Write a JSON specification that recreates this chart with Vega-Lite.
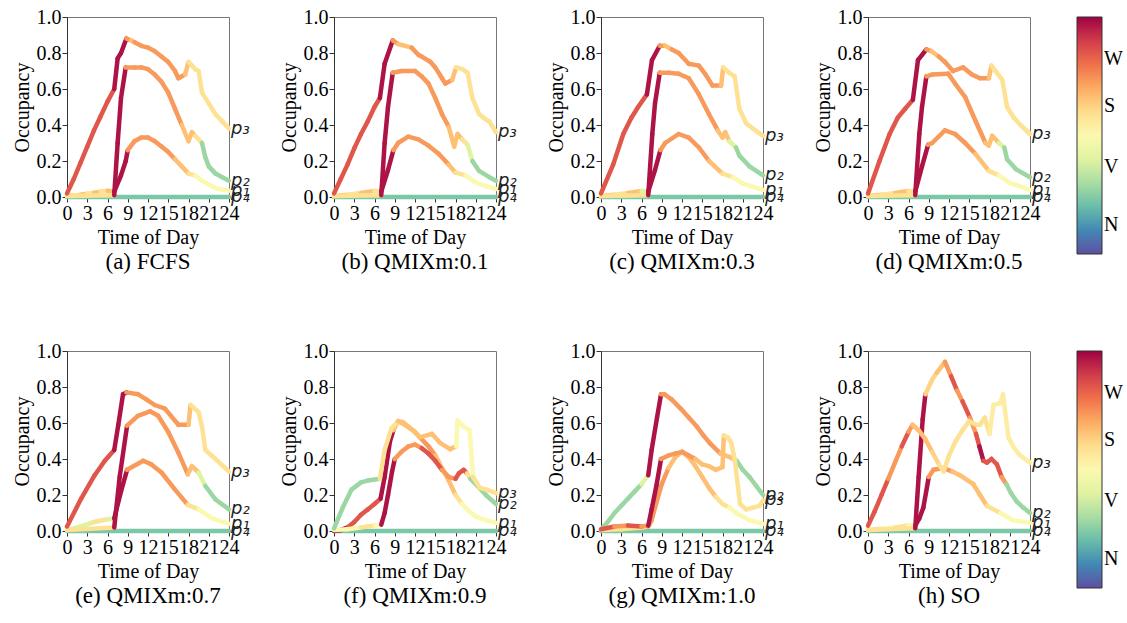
{
"$schema":"https://vega.github.io/schema/vega-lite/v6.json",
"padding":{"left":11,"top":6,"right":5,"bottom":5},
"background":"white",
"config":{
 "view":{"stroke":"#777","strokeWidth":1},
 "axis":{"labelFont":"Liberation Serif","labelFontSize":20,"labelColor":"black","titleFont":"Liberation Serif","titleFontSize":20,"titleFontWeight":"normal","titleColor":"black","grid":false,"tickSize":5,"tickColor":"#333","domainColor":"#333","labelOverlap":false,"labelFlush":false,"labelPadding":1,"labelBound":false},
 "title":{"orient":"bottom","font":"Liberation Serif","fontSize":23,"fontWeight":"normal","color":"black","offset":4},
 "legend":{"labelFont":"Liberation Serif","labelFontSize":20,"labelColor":"black"}
},
"data":{"values":[
{"f":"a","s":"p₄","t":0,"v":0,"c":0.23},{"f":"a","s":"p₄","t":24,"v":0,"c":0.23},
{"f":"a","s":"p₁","t":0,"v":0.005,"c":0.66},{"f":"a","s":"p₁","t":1,"v":0.008,"c":0.58},{"f":"a","s":"p₁","t":2,"v":0.012,"c":0.66},{"f":"a","s":"p₁","t":3,"v":0.018,"c":0.58},{"f":"a","s":"p₁","t":4,"v":0.024,"c":0.66},{"f":"a","s":"p₁","t":5,"v":0.03,"c":0.58},{"f":"a","s":"p₁","t":6,"v":0.035,"c":0.66},{"f":"a","s":"p₁","t":7,"v":0.03,"c":0.97},{"f":"a","s":"p₁","t":8,"v":0.12,"c":0.97},{"f":"a","s":"p₁","t":8.7,"v":0.2,"c":0.97},{"f":"a","s":"p₁","t":9,"v":0.26,"c":0.73},{"f":"a","s":"p₁","t":10,"v":0.31,"c":0.73},{"f":"a","s":"p₁","t":11,"v":0.33,"c":0.73},{"f":"a","s":"p₁","t":12,"v":0.33,"c":0.73},{"f":"a","s":"p₁","t":13,"v":0.31,"c":0.73},{"f":"a","s":"p₁","t":14,"v":0.28,"c":0.73},{"f":"a","s":"p₁","t":15,"v":0.25,"c":0.73},{"f":"a","s":"p₁","t":16,"v":0.21,"c":0.66},{"f":"a","s":"p₁","t":17,"v":0.17,"c":0.66},{"f":"a","s":"p₁","t":18,"v":0.13,"c":0.58},{"f":"a","s":"p₁","t":19,"v":0.12,"c":0.5},{"f":"a","s":"p₁","t":20,"v":0.09,"c":0.5},{"f":"a","s":"p₁","t":21,"v":0.07,"c":0.5},{"f":"a","s":"p₁","t":22,"v":0.05,"c":0.5},{"f":"a","s":"p₁","t":23,"v":0.04,"c":0.5},{"f":"a","s":"p₁","t":24,"v":0.035,"c":0.5},
{"f":"a","s":"p₂","t":0,"v":0.005,"c":0.58},{"f":"a","s":"p₂","t":7,"v":0.01,"c":0.97},{"f":"a","s":"p₂","t":7.5,"v":0.3,"c":0.97},{"f":"a","s":"p₂","t":8,"v":0.55,"c":0.97},{"f":"a","s":"p₂","t":8.7,"v":0.72,"c":0.73},{"f":"a","s":"p₂","t":10,"v":0.72,"c":0.73},{"f":"a","s":"p₂","t":11,"v":0.72,"c":0.73},{"f":"a","s":"p₂","t":12,"v":0.71,"c":0.73},{"f":"a","s":"p₂","t":13,"v":0.68,"c":0.73},{"f":"a","s":"p₂","t":14,"v":0.64,"c":0.73},{"f":"a","s":"p₂","t":15,"v":0.58,"c":0.73},{"f":"a","s":"p₂","t":16,"v":0.49,"c":0.73},{"f":"a","s":"p₂","t":17,"v":0.4,"c":0.66},{"f":"a","s":"p₂","t":18,"v":0.31,"c":0.66},{"f":"a","s":"p₂","t":18.5,"v":0.36,"c":0.66},{"f":"a","s":"p₂","t":19,"v":0.34,"c":0.58},{"f":"a","s":"p₂","t":20,"v":0.3,"c":0.28},{"f":"a","s":"p₂","t":20.5,"v":0.22,"c":0.28},{"f":"a","s":"p₂","t":21,"v":0.17,"c":0.28},{"f":"a","s":"p₂","t":22,"v":0.13,"c":0.28},{"f":"a","s":"p₂","t":23,"v":0.11,"c":0.28},{"f":"a","s":"p₂","t":24,"v":0.09,"c":0.28},
{"f":"a","s":"p₃","t":0,"v":0.02,"c":0.85},{"f":"a","s":"p₃","t":1,"v":0.1,"c":0.85},{"f":"a","s":"p₃","t":2,"v":0.19,"c":0.85},{"f":"a","s":"p₃","t":3,"v":0.28,"c":0.85},{"f":"a","s":"p₃","t":4,"v":0.37,"c":0.85},{"f":"a","s":"p₃","t":5,"v":0.45,"c":0.85},{"f":"a","s":"p₃","t":6,"v":0.53,"c":0.85},{"f":"a","s":"p₃","t":7,"v":0.6,"c":0.97},{"f":"a","s":"p₃","t":7.5,"v":0.77,"c":0.97},{"f":"a","s":"p₃","t":8,"v":0.8,"c":0.97},{"f":"a","s":"p₃","t":8.8,"v":0.88,"c":0.73},{"f":"a","s":"p₃","t":9.5,"v":0.87,"c":0.66},{"f":"a","s":"p₃","t":10,"v":0.86,"c":0.73},{"f":"a","s":"p₃","t":11,"v":0.84,"c":0.73},{"f":"a","s":"p₃","t":12,"v":0.83,"c":0.73},{"f":"a","s":"p₃","t":13,"v":0.81,"c":0.73},{"f":"a","s":"p₃","t":14,"v":0.78,"c":0.73},{"f":"a","s":"p₃","t":15,"v":0.75,"c":0.73},{"f":"a","s":"p₃","t":16,"v":0.7,"c":0.73},{"f":"a","s":"p₃","t":16.5,"v":0.66,"c":0.73},{"f":"a","s":"p₃","t":17.5,"v":0.68,"c":0.66},{"f":"a","s":"p₃","t":18,"v":0.75,"c":0.58},{"f":"a","s":"p₃","t":18.5,"v":0.73,"c":0.58},{"f":"a","s":"p₃","t":19,"v":0.71,"c":0.58},{"f":"a","s":"p₃","t":19.5,"v":0.7,"c":0.58},{"f":"a","s":"p₃","t":20,"v":0.58,"c":0.58},{"f":"a","s":"p₃","t":21,"v":0.52,"c":0.58},{"f":"a","s":"p₃","t":22,"v":0.46,"c":0.58},{"f":"a","s":"p₃","t":23,"v":0.42,"c":0.58},{"f":"a","s":"p₃","t":24,"v":0.38,"c":0.58},

{"f":"b","s":"p₄","t":0,"v":0,"c":0.23},{"f":"b","s":"p₄","t":24,"v":0,"c":0.23},
{"f":"b","s":"p₁","t":0,"v":0.005,"c":0.66},{"f":"b","s":"p₁","t":2,"v":0.012,"c":0.58},{"f":"b","s":"p₁","t":4,"v":0.022,"c":0.66},{"f":"b","s":"p₁","t":6,"v":0.033,"c":0.58},{"f":"b","s":"p₁","t":7,"v":0.03,"c":0.97},{"f":"b","s":"p₁","t":8,"v":0.15,"c":0.97},{"f":"b","s":"p₁","t":8.8,"v":0.26,"c":0.73},{"f":"b","s":"p₁","t":9.5,"v":0.3,"c":0.73},{"f":"b","s":"p₁","t":11,"v":0.335,"c":0.73},{"f":"b","s":"p₁","t":12.5,"v":0.32,"c":0.73},{"f":"b","s":"p₁","t":14,"v":0.285,"c":0.73},{"f":"b","s":"p₁","t":15.5,"v":0.24,"c":0.73},{"f":"b","s":"p₁","t":17,"v":0.18,"c":0.66},{"f":"b","s":"p₁","t":18,"v":0.135,"c":0.58},{"f":"b","s":"p₁","t":19.5,"v":0.12,"c":0.5},{"f":"b","s":"p₁","t":21,"v":0.08,"c":0.5},{"f":"b","s":"p₁","t":22.5,"v":0.06,"c":0.5},{"f":"b","s":"p₁","t":24,"v":0.045,"c":0.5},
{"f":"b","s":"p₂","t":0,"v":0.005,"c":0.58},{"f":"b","s":"p₂","t":7,"v":0.01,"c":0.97},{"f":"b","s":"p₂","t":7.5,"v":0.3,"c":0.97},{"f":"b","s":"p₂","t":8,"v":0.5,"c":0.97},{"f":"b","s":"p₂","t":8.7,"v":0.69,"c":0.73},{"f":"b","s":"p₂","t":10,"v":0.7,"c":0.73},{"f":"b","s":"p₂","t":11,"v":0.7,"c":0.73},{"f":"b","s":"p₂","t":12,"v":0.7,"c":0.73},{"f":"b","s":"p₂","t":13,"v":0.67,"c":0.73},{"f":"b","s":"p₂","t":14,"v":0.63,"c":0.73},{"f":"b","s":"p₂","t":15,"v":0.55,"c":0.73},{"f":"b","s":"p₂","t":16,"v":0.46,"c":0.73},{"f":"b","s":"p₂","t":17,"v":0.39,"c":0.66},{"f":"b","s":"p₂","t":17.8,"v":0.28,"c":0.66},{"f":"b","s":"p₂","t":18.3,"v":0.35,"c":0.66},{"f":"b","s":"p₂","t":19,"v":0.32,"c":0.58},{"f":"b","s":"p₂","t":19.8,"v":0.29,"c":0.4},{"f":"b","s":"p₂","t":20.5,"v":0.2,"c":0.28},{"f":"b","s":"p₂","t":21.5,"v":0.145,"c":0.28},{"f":"b","s":"p₂","t":23,"v":0.11,"c":0.28},{"f":"b","s":"p₂","t":24,"v":0.09,"c":0.28},
{"f":"b","s":"p₃","t":0,"v":0.02,"c":0.85},{"f":"b","s":"p₃","t":1,"v":0.1,"c":0.85},{"f":"b","s":"p₃","t":2,"v":0.18,"c":0.85},{"f":"b","s":"p₃","t":3,"v":0.27,"c":0.85},{"f":"b","s":"p₃","t":4,"v":0.35,"c":0.85},{"f":"b","s":"p₃","t":5,"v":0.42,"c":0.85},{"f":"b","s":"p₃","t":6,"v":0.5,"c":0.85},{"f":"b","s":"p₃","t":6.8,"v":0.55,"c":0.97},{"f":"b","s":"p₃","t":7.5,"v":0.74,"c":0.97},{"f":"b","s":"p₃","t":8.7,"v":0.87,"c":0.73},{"f":"b","s":"p₃","t":9.5,"v":0.85,"c":0.66},{"f":"b","s":"p₃","t":10.5,"v":0.84,"c":0.66},{"f":"b","s":"p₃","t":11.5,"v":0.83,"c":0.73},{"f":"b","s":"p₃","t":12.5,"v":0.79,"c":0.73},{"f":"b","s":"p₃","t":13,"v":0.78,"c":0.73},{"f":"b","s":"p₃","t":14.3,"v":0.75,"c":0.73},{"f":"b","s":"p₃","t":15,"v":0.72,"c":0.73},{"f":"b","s":"p₃","t":16,"v":0.66,"c":0.73},{"f":"b","s":"p₃","t":16.5,"v":0.63,"c":0.73},{"f":"b","s":"p₃","t":17.5,"v":0.65,"c":0.66},{"f":"b","s":"p₃","t":18.1,"v":0.72,"c":0.58},{"f":"b","s":"p₃","t":19,"v":0.71,"c":0.58},{"f":"b","s":"p₃","t":19.8,"v":0.69,"c":0.58},{"f":"b","s":"p₃","t":20.5,"v":0.55,"c":0.58},{"f":"b","s":"p₃","t":21.5,"v":0.46,"c":0.58},{"f":"b","s":"p₃","t":22.5,"v":0.43,"c":0.58},{"f":"b","s":"p₃","t":23,"v":0.42,"c":0.58},{"f":"b","s":"p₃","t":24,"v":0.36,"c":0.58},

{"f":"c","s":"p₄","t":0,"v":0,"c":0.23},{"f":"c","s":"p₄","t":24,"v":0,"c":0.23},
{"f":"c","s":"p₁","t":0,"v":0.005,"c":0.66},{"f":"c","s":"p₁","t":2,"v":0.012,"c":0.58},{"f":"c","s":"p₁","t":4,"v":0.022,"c":0.66},{"f":"c","s":"p₁","t":6,"v":0.033,"c":0.4},{"f":"c","s":"p₁","t":7,"v":0.03,"c":0.97},{"f":"c","s":"p₁","t":8,"v":0.15,"c":0.97},{"f":"c","s":"p₁","t":8.8,"v":0.26,"c":0.73},{"f":"c","s":"p₁","t":9.5,"v":0.3,"c":0.73},{"f":"c","s":"p₁","t":11.5,"v":0.35,"c":0.73},{"f":"c","s":"p₁","t":13,"v":0.33,"c":0.73},{"f":"c","s":"p₁","t":14.5,"v":0.275,"c":0.73},{"f":"c","s":"p₁","t":16,"v":0.2,"c":0.66},{"f":"c","s":"p₁","t":18,"v":0.13,"c":0.58},{"f":"c","s":"p₁","t":19.5,"v":0.11,"c":0.5},{"f":"c","s":"p₁","t":21,"v":0.075,"c":0.5},{"f":"c","s":"p₁","t":24,"v":0.04,"c":0.5},
{"f":"c","s":"p₂","t":0,"v":0.005,"c":0.58},{"f":"c","s":"p₂","t":7,"v":0.01,"c":0.97},{"f":"c","s":"p₂","t":7.6,"v":0.35,"c":0.97},{"f":"c","s":"p₂","t":8,"v":0.52,"c":0.97},{"f":"c","s":"p₂","t":8.7,"v":0.69,"c":0.73},{"f":"c","s":"p₂","t":10,"v":0.69,"c":0.73},{"f":"c","s":"p₂","t":11.5,"v":0.685,"c":0.73},{"f":"c","s":"p₂","t":13,"v":0.66,"c":0.73},{"f":"c","s":"p₂","t":14.5,"v":0.57,"c":0.73},{"f":"c","s":"p₂","t":16,"v":0.46,"c":0.73},{"f":"c","s":"p₂","t":17.3,"v":0.37,"c":0.66},{"f":"c","s":"p₂","t":18,"v":0.33,"c":0.66},{"f":"c","s":"p₂","t":18.4,"v":0.36,"c":0.66},{"f":"c","s":"p₂","t":19,"v":0.31,"c":0.4},{"f":"c","s":"p₂","t":20,"v":0.275,"c":0.28},{"f":"c","s":"p₂","t":20.5,"v":0.23,"c":0.28},{"f":"c","s":"p₂","t":22,"v":0.17,"c":0.28},{"f":"c","s":"p₂","t":24,"v":0.12,"c":0.28},
{"f":"c","s":"p₃","t":0,"v":0.02,"c":0.85},{"f":"c","s":"p₃","t":1.8,"v":0.18,"c":0.85},{"f":"c","s":"p₃","t":3.3,"v":0.35,"c":0.85},{"f":"c","s":"p₃","t":4.5,"v":0.44,"c":0.85},{"f":"c","s":"p₃","t":5.5,"v":0.5,"c":0.85},{"f":"c","s":"p₃","t":6.8,"v":0.57,"c":0.97},{"f":"c","s":"p₃","t":7.55,"v":0.76,"c":0.97},{"f":"c","s":"p₃","t":8.7,"v":0.84,"c":0.73},{"f":"c","s":"p₃","t":9.5,"v":0.84,"c":0.66},{"f":"c","s":"p₃","t":10.5,"v":0.82,"c":0.73},{"f":"c","s":"p₃","t":11.5,"v":0.8,"c":0.73},{"f":"c","s":"p₃","t":13,"v":0.74,"c":0.73},{"f":"c","s":"p₃","t":14.5,"v":0.73,"c":0.73},{"f":"c","s":"p₃","t":15.5,"v":0.68,"c":0.73},{"f":"c","s":"p₃","t":16.5,"v":0.62,"c":0.73},{"f":"c","s":"p₃","t":17.8,"v":0.62,"c":0.66},{"f":"c","s":"p₃","t":18.1,"v":0.72,"c":0.58},{"f":"c","s":"p₃","t":19,"v":0.69,"c":0.58},{"f":"c","s":"p₃","t":19.8,"v":0.67,"c":0.58},{"f":"c","s":"p₃","t":20.5,"v":0.49,"c":0.58},{"f":"c","s":"p₃","t":21.5,"v":0.41,"c":0.58},{"f":"c","s":"p₃","t":22.5,"v":0.38,"c":0.58},{"f":"c","s":"p₃","t":24,"v":0.34,"c":0.58},

{"f":"d","s":"p₄","t":0,"v":0,"c":0.23},{"f":"d","s":"p₄","t":24,"v":0,"c":0.23},
{"f":"d","s":"p₁","t":0,"v":0.005,"c":0.66},{"f":"d","s":"p₁","t":2,"v":0.012,"c":0.58},{"f":"d","s":"p₁","t":4,"v":0.022,"c":0.66},{"f":"d","s":"p₁","t":6,"v":0.033,"c":0.58},{"f":"d","s":"p₁","t":7,"v":0.03,"c":0.97},{"f":"d","s":"p₁","t":8,"v":0.17,"c":0.97},{"f":"d","s":"p₁","t":8.9,"v":0.29,"c":0.73},{"f":"d","s":"p₁","t":9.5,"v":0.3,"c":0.73},{"f":"d","s":"p₁","t":11.4,"v":0.37,"c":0.73},{"f":"d","s":"p₁","t":12.9,"v":0.35,"c":0.73},{"f":"d","s":"p₁","t":14.4,"v":0.3,"c":0.73},{"f":"d","s":"p₁","t":15.9,"v":0.24,"c":0.66},{"f":"d","s":"p₁","t":17.9,"v":0.145,"c":0.58},{"f":"d","s":"p₁","t":19.4,"v":0.12,"c":0.5},{"f":"d","s":"p₁","t":20.9,"v":0.08,"c":0.5},{"f":"d","s":"p₁","t":24,"v":0.04,"c":0.5},
{"f":"d","s":"p₂","t":0,"v":0.005,"c":0.58},{"f":"d","s":"p₂","t":7,"v":0.01,"c":0.97},{"f":"d","s":"p₂","t":7.6,"v":0.35,"c":0.97},{"f":"d","s":"p₂","t":8,"v":0.5,"c":0.97},{"f":"d","s":"p₂","t":8.65,"v":0.67,"c":0.73},{"f":"d","s":"p₂","t":9.5,"v":0.68,"c":0.73},{"f":"d","s":"p₂","t":11.9,"v":0.685,"c":0.73},{"f":"d","s":"p₂","t":12.9,"v":0.63,"c":0.73},{"f":"d","s":"p₂","t":14.4,"v":0.555,"c":0.73},{"f":"d","s":"p₂","t":15.9,"v":0.425,"c":0.73},{"f":"d","s":"p₂","t":17.4,"v":0.3,"c":0.66},{"f":"d","s":"p₂","t":17.9,"v":0.285,"c":0.66},{"f":"d","s":"p₂","t":18.4,"v":0.34,"c":0.66},{"f":"d","s":"p₂","t":19.4,"v":0.3,"c":0.4},{"f":"d","s":"p₂","t":20.2,"v":0.275,"c":0.28},{"f":"d","s":"p₂","t":20.6,"v":0.21,"c":0.28},{"f":"d","s":"p₂","t":21.9,"v":0.155,"c":0.28},{"f":"d","s":"p₂","t":24,"v":0.11,"c":0.28},
{"f":"d","s":"p₃","t":0,"v":0.02,"c":0.85},{"f":"d","s":"p₃","t":1.7,"v":0.2,"c":0.85},{"f":"d","s":"p₃","t":3.2,"v":0.35,"c":0.85},{"f":"d","s":"p₃","t":4.4,"v":0.44,"c":0.85},{"f":"d","s":"p₃","t":5.5,"v":0.49,"c":0.85},{"f":"d","s":"p₃","t":6.65,"v":0.54,"c":0.97},{"f":"d","s":"p₃","t":7.4,"v":0.76,"c":0.97},{"f":"d","s":"p₃","t":8.65,"v":0.82,"c":0.73},{"f":"d","s":"p₃","t":9.4,"v":0.81,"c":0.66},{"f":"d","s":"p₃","t":10.5,"v":0.78,"c":0.73},{"f":"d","s":"p₃","t":11.4,"v":0.75,"c":0.73},{"f":"d","s":"p₃","t":12.6,"v":0.7,"c":0.73},{"f":"d","s":"p₃","t":14.1,"v":0.72,"c":0.73},{"f":"d","s":"p₃","t":15.4,"v":0.68,"c":0.73},{"f":"d","s":"p₃","t":16.6,"v":0.66,"c":0.73},{"f":"d","s":"p₃","t":17.9,"v":0.66,"c":0.66},{"f":"d","s":"p₃","t":18.3,"v":0.73,"c":0.58},{"f":"d","s":"p₃","t":19.1,"v":0.69,"c":0.58},{"f":"d","s":"p₃","t":19.9,"v":0.65,"c":0.58},{"f":"d","s":"p₃","t":20.6,"v":0.5,"c":0.58},{"f":"d","s":"p₃","t":21.6,"v":0.44,"c":0.58},{"f":"d","s":"p₃","t":22.6,"v":0.4,"c":0.58},{"f":"d","s":"p₃","t":24,"v":0.35,"c":0.58},

{"f":"e","s":"p₄","t":0,"v":0,"c":0.23},{"f":"e","s":"p₄","t":24,"v":0,"c":0.23},
{"f":"e","s":"p₁","t":0,"v":0.005,"c":0.4},{"f":"e","s":"p₁","t":2,"v":0.025,"c":0.4},{"f":"e","s":"p₁","t":4,"v":0.05,"c":0.58},{"f":"e","s":"p₁","t":6,"v":0.065,"c":0.4},{"f":"e","s":"p₁","t":7,"v":0.07,"c":0.97},{"f":"e","s":"p₁","t":8,"v":0.22,"c":0.97},{"f":"e","s":"p₁","t":8.9,"v":0.34,"c":0.73},{"f":"e","s":"p₁","t":11.3,"v":0.39,"c":0.73},{"f":"e","s":"p₁","t":12.5,"v":0.37,"c":0.73},{"f":"e","s":"p₁","t":14,"v":0.325,"c":0.73},{"f":"e","s":"p₁","t":16,"v":0.23,"c":0.73},{"f":"e","s":"p₁","t":17.9,"v":0.145,"c":0.58},{"f":"e","s":"p₁","t":19.5,"v":0.12,"c":0.5},{"f":"e","s":"p₁","t":21.5,"v":0.07,"c":0.5},{"f":"e","s":"p₁","t":24,"v":0.04,"c":0.5},
{"f":"e","s":"p₂","t":0,"v":0.005,"c":0.58},{"f":"e","s":"p₂","t":7,"v":0.02,"c":0.97},{"f":"e","s":"p₂","t":7.8,"v":0.3,"c":0.97},{"f":"e","s":"p₂","t":8.9,"v":0.585,"c":0.73},{"f":"e","s":"p₂","t":10.5,"v":0.64,"c":0.73},{"f":"e","s":"p₂","t":12.3,"v":0.665,"c":0.73},{"f":"e","s":"p₂","t":13.5,"v":0.64,"c":0.73},{"f":"e","s":"p₂","t":15,"v":0.55,"c":0.73},{"f":"e","s":"p₂","t":16.5,"v":0.435,"c":0.73},{"f":"e","s":"p₂","t":17.9,"v":0.315,"c":0.66},{"f":"e","s":"p₂","t":18.5,"v":0.36,"c":0.66},{"f":"e","s":"p₂","t":19.5,"v":0.325,"c":0.4},{"f":"e","s":"p₂","t":20.5,"v":0.25,"c":0.28},{"f":"e","s":"p₂","t":22,"v":0.175,"c":0.28},{"f":"e","s":"p₂","t":24,"v":0.12,"c":0.28},
{"f":"e","s":"p₃","t":0,"v":0.025,"c":0.85},{"f":"e","s":"p₃","t":2.1,"v":0.18,"c":0.85},{"f":"e","s":"p₃","t":4.1,"v":0.31,"c":0.85},{"f":"e","s":"p₃","t":5.6,"v":0.39,"c":0.85},{"f":"e","s":"p₃","t":7,"v":0.45,"c":0.97},{"f":"e","s":"p₃","t":7.6,"v":0.59,"c":0.97},{"f":"e","s":"p₃","t":8.3,"v":0.76,"c":0.97},{"f":"e","s":"p₃","t":8.8,"v":0.77,"c":0.73},{"f":"e","s":"p₃","t":10.5,"v":0.76,"c":0.73},{"f":"e","s":"p₃","t":11.8,"v":0.73,"c":0.73},{"f":"e","s":"p₃","t":13,"v":0.7,"c":0.73},{"f":"e","s":"p₃","t":14.5,"v":0.68,"c":0.73},{"f":"e","s":"p₃","t":16.5,"v":0.59,"c":0.73},{"f":"e","s":"p₃","t":18,"v":0.59,"c":0.66},{"f":"e","s":"p₃","t":18.3,"v":0.7,"c":0.58},{"f":"e","s":"p₃","t":19.5,"v":0.66,"c":0.58},{"f":"e","s":"p₃","t":20,"v":0.58,"c":0.58},{"f":"e","s":"p₃","t":20.5,"v":0.45,"c":0.58},{"f":"e","s":"p₃","t":22,"v":0.4,"c":0.58},{"f":"e","s":"p₃","t":24,"v":0.33,"c":0.58},

{"f":"f","s":"p₄","t":0,"v":0,"c":0.23},{"f":"f","s":"p₄","t":24,"v":0,"c":0.23},
{"f":"f","s":"p₁","t":0,"v":0.0,"c":0.97},{"f":"f","s":"p₁","t":1,"v":0.005,"c":0.97},{"f":"f","s":"p₁","t":2,"v":0.02,"c":0.85},{"f":"f","s":"p₁","t":3,"v":0.05,"c":0.85},{"f":"f","s":"p₁","t":4,"v":0.09,"c":0.85},{"f":"f","s":"p₁","t":5,"v":0.12,"c":0.85},{"f":"f","s":"p₁","t":6,"v":0.15,"c":0.85},{"f":"f","s":"p₁","t":6.9,"v":0.18,"c":0.97},{"f":"f","s":"p₁","t":7.5,"v":0.3,"c":0.97},{"f":"f","s":"p₁","t":8.3,"v":0.5,"c":0.97},{"f":"f","s":"p₁","t":8.8,"v":0.56,"c":0.66},{"f":"f","s":"p₁","t":9.5,"v":0.61,"c":0.66},{"f":"f","s":"p₁","t":10.5,"v":0.59,"c":0.66},{"f":"f","s":"p₁","t":12,"v":0.55,"c":0.66},{"f":"f","s":"p₁","t":13,"v":0.51,"c":0.73},{"f":"f","s":"p₁","t":14,"v":0.47,"c":0.73},{"f":"f","s":"p₁","t":15,"v":0.42,"c":0.66},{"f":"f","s":"p₁","t":16,"v":0.35,"c":0.66},{"f":"f","s":"p₁","t":17,"v":0.28,"c":0.66},{"f":"f","s":"p₁","t":18,"v":0.2,"c":0.58},{"f":"f","s":"p₁","t":19,"v":0.15,"c":0.5},{"f":"f","s":"p₁","t":20,"v":0.11,"c":0.5},{"f":"f","s":"p₁","t":21,"v":0.08,"c":0.5},{"f":"f","s":"p₁","t":22.5,"v":0.06,"c":0.5},{"f":"f","s":"p₁","t":24,"v":0.045,"c":0.5},
{"f":"f","s":"p₂","t":0,"v":0.005,"c":0.5},{"f":"f","s":"p₂","t":2,"v":0.01,"c":0.5},{"f":"f","s":"p₂","t":4,"v":0.02,"c":0.58},{"f":"f","s":"p₂","t":6,"v":0.03,"c":0.5},{"f":"f","s":"p₂","t":7,"v":0.035,"c":0.97},{"f":"f","s":"p₂","t":7.5,"v":0.1,"c":0.97},{"f":"f","s":"p₂","t":8,"v":0.2,"c":0.97},{"f":"f","s":"p₂","t":8.6,"v":0.33,"c":0.97},{"f":"f","s":"p₂","t":9,"v":0.4,"c":0.73},{"f":"f","s":"p₂","t":10,"v":0.44,"c":0.73},{"f":"f","s":"p₂","t":11,"v":0.47,"c":0.73},{"f":"f","s":"p₂","t":12,"v":0.48,"c":0.73},{"f":"f","s":"p₂","t":13,"v":0.46,"c":0.85},{"f":"f","s":"p₂","t":14,"v":0.43,"c":0.85},{"f":"f","s":"p₂","t":15,"v":0.39,"c":0.85},{"f":"f","s":"p₂","t":16,"v":0.34,"c":0.73},{"f":"f","s":"p₂","t":17,"v":0.3,"c":0.73},{"f":"f","s":"p₂","t":18,"v":0.29,"c":0.85},{"f":"f","s":"p₂","t":18.5,"v":0.32,"c":0.85},{"f":"f","s":"p₂","t":19.2,"v":0.34,"c":0.85},{"f":"f","s":"p₂","t":19.7,"v":0.32,"c":0.58},{"f":"f","s":"p₂","t":20.2,"v":0.29,"c":0.28},{"f":"f","s":"p₂","t":21.5,"v":0.24,"c":0.28},{"f":"f","s":"p₂","t":22.5,"v":0.2,"c":0.28},{"f":"f","s":"p₂","t":24,"v":0.15,"c":0.28},
{"f":"f","s":"p₃","t":0,"v":0.015,"c":0.28},{"f":"f","s":"p₃","t":1.3,"v":0.13,"c":0.28},{"f":"f","s":"p₃","t":2.6,"v":0.23,"c":0.28},{"f":"f","s":"p₃","t":4,"v":0.27,"c":0.28},{"f":"f","s":"p₃","t":5,"v":0.28,"c":0.28},{"f":"f","s":"p₃","t":6.8,"v":0.29,"c":0.58},{"f":"f","s":"p₃","t":7.5,"v":0.45,"c":0.58},{"f":"f","s":"p₃","t":8.5,"v":0.57,"c":0.58},{"f":"f","s":"p₃","t":9.5,"v":0.61,"c":0.66},{"f":"f","s":"p₃","t":10.2,"v":0.605,"c":0.66},{"f":"f","s":"p₃","t":11.7,"v":0.56,"c":0.66},{"f":"f","s":"p₃","t":12.7,"v":0.52,"c":0.66},{"f":"f","s":"p₃","t":14.5,"v":0.54,"c":0.66},{"f":"f","s":"p₃","t":15.7,"v":0.49,"c":0.66},{"f":"f","s":"p₃","t":17.2,"v":0.455,"c":0.66},{"f":"f","s":"p₃","t":18.1,"v":0.47,"c":0.5},{"f":"f","s":"p₃","t":18.3,"v":0.615,"c":0.5},{"f":"f","s":"p₃","t":19.2,"v":0.58,"c":0.5},{"f":"f","s":"p₃","t":20.1,"v":0.56,"c":0.5},{"f":"f","s":"p₃","t":20.6,"v":0.3,"c":0.58},{"f":"f","s":"p₃","t":21.6,"v":0.24,"c":0.58},{"f":"f","s":"p₃","t":22.6,"v":0.23,"c":0.58},{"f":"f","s":"p₃","t":24,"v":0.21,"c":0.58},

{"f":"g","s":"p₄","t":0,"v":0,"c":0.23},{"f":"g","s":"p₄","t":24,"v":0,"c":0.23},
{"f":"g","s":"p₁","t":0,"v":0.005,"c":0.58},{"f":"g","s":"p₁","t":3,"v":0.01,"c":0.58},{"f":"g","s":"p₁","t":6,"v":0.02,"c":0.58},{"f":"g","s":"p₁","t":7,"v":0.025,"c":0.73},{"f":"g","s":"p₁","t":7.5,"v":0.06,"c":0.73},{"f":"g","s":"p₁","t":8,"v":0.13,"c":0.73},{"f":"g","s":"p₁","t":9,"v":0.26,"c":0.73},{"f":"g","s":"p₁","t":10,"v":0.35,"c":0.66},{"f":"g","s":"p₁","t":11,"v":0.41,"c":0.66},{"f":"g","s":"p₁","t":12,"v":0.44,"c":0.66},{"f":"g","s":"p₁","t":13,"v":0.41,"c":0.66},{"f":"g","s":"p₁","t":14,"v":0.36,"c":0.66},{"f":"g","s":"p₁","t":15,"v":0.3,"c":0.66},{"f":"g","s":"p₁","t":16,"v":0.24,"c":0.66},{"f":"g","s":"p₁","t":17,"v":0.19,"c":0.58},{"f":"g","s":"p₁","t":18,"v":0.15,"c":0.58},{"f":"g","s":"p₁","t":19,"v":0.13,"c":0.5},{"f":"g","s":"p₁","t":20,"v":0.1,"c":0.5},{"f":"g","s":"p₁","t":21,"v":0.08,"c":0.5},{"f":"g","s":"p₁","t":22,"v":0.06,"c":0.5},{"f":"g","s":"p₁","t":23,"v":0.05,"c":0.5},{"f":"g","s":"p₁","t":24,"v":0.04,"c":0.5},
{"f":"g","s":"p₂","t":0,"v":0.01,"c":0.28},{"f":"g","s":"p₂","t":1,"v":0.05,"c":0.28},{"f":"g","s":"p₂","t":2,"v":0.1,"c":0.28},{"f":"g","s":"p₂","t":3,"v":0.14,"c":0.28},{"f":"g","s":"p₂","t":4,"v":0.18,"c":0.28},{"f":"g","s":"p₂","t":5,"v":0.22,"c":0.28},{"f":"g","s":"p₂","t":6,"v":0.26,"c":0.4},{"f":"g","s":"p₂","t":7,"v":0.31,"c":0.97},{"f":"g","s":"p₂","t":7.5,"v":0.45,"c":0.97},{"f":"g","s":"p₂","t":8.3,"v":0.63,"c":0.97},{"f":"g","s":"p₂","t":8.9,"v":0.76,"c":0.73},{"f":"g","s":"p₂","t":9.4,"v":0.76,"c":0.73},{"f":"g","s":"p₂","t":10.5,"v":0.73,"c":0.73},{"f":"g","s":"p₂","t":11.8,"v":0.68,"c":0.73},{"f":"g","s":"p₂","t":13,"v":0.63,"c":0.73},{"f":"g","s":"p₂","t":14.2,"v":0.58,"c":0.73},{"f":"g","s":"p₂","t":15.2,"v":0.53,"c":0.73},{"f":"g","s":"p₂","t":16.2,"v":0.485,"c":0.73},{"f":"g","s":"p₂","t":17.7,"v":0.43,"c":0.66},{"f":"g","s":"p₂","t":19.1,"v":0.41,"c":0.66},{"f":"g","s":"p₂","t":20.1,"v":0.39,"c":0.28},{"f":"g","s":"p₂","t":21,"v":0.34,"c":0.28},{"f":"g","s":"p₂","t":22,"v":0.3,"c":0.28},{"f":"g","s":"p₂","t":23,"v":0.25,"c":0.28},{"f":"g","s":"p₂","t":24,"v":0.2,"c":0.28},
{"f":"g","s":"p₃","t":0,"v":0.01,"c":0.85},{"f":"g","s":"p₃","t":2,"v":0.025,"c":0.73},{"f":"g","s":"p₃","t":4,"v":0.03,"c":0.85},{"f":"g","s":"p₃","t":6,"v":0.025,"c":0.73},{"f":"g","s":"p₃","t":7,"v":0.03,"c":0.97},{"f":"g","s":"p₃","t":7.5,"v":0.12,"c":0.97},{"f":"g","s":"p₃","t":8.2,"v":0.25,"c":0.97},{"f":"g","s":"p₃","t":8.9,"v":0.4,"c":0.73},{"f":"g","s":"p₃","t":10,"v":0.42,"c":0.73},{"f":"g","s":"p₃","t":11,"v":0.43,"c":0.73},{"f":"g","s":"p₃","t":12,"v":0.44,"c":0.73},{"f":"g","s":"p₃","t":13,"v":0.42,"c":0.73},{"f":"g","s":"p₃","t":14,"v":0.4,"c":0.66},{"f":"g","s":"p₃","t":15,"v":0.37,"c":0.66},{"f":"g","s":"p₃","t":16,"v":0.36,"c":0.66},{"f":"g","s":"p₃","t":17,"v":0.34,"c":0.66},{"f":"g","s":"p₃","t":18,"v":0.355,"c":0.66},{"f":"g","s":"p₃","t":18.2,"v":0.53,"c":0.58},{"f":"g","s":"p₃","t":18.8,"v":0.52,"c":0.58},{"f":"g","s":"p₃","t":19.3,"v":0.49,"c":0.58},{"f":"g","s":"p₃","t":19.8,"v":0.4,"c":0.58},{"f":"g","s":"p₃","t":20.6,"v":0.15,"c":0.58},{"f":"g","s":"p₃","t":21.5,"v":0.12,"c":0.58},{"f":"g","s":"p₃","t":22.5,"v":0.13,"c":0.58},{"f":"g","s":"p₃","t":23.5,"v":0.14,"c":0.58},{"f":"g","s":"p₃","t":24,"v":0.17,"c":0.58},

{"f":"h","s":"p₄","t":0,"v":0,"c":0.23},{"f":"h","s":"p₄","t":24,"v":0,"c":0.23},
{"f":"h","s":"p₁","t":0,"v":0.005,"c":0.58},{"f":"h","s":"p₁","t":2,"v":0.012,"c":0.5},{"f":"h","s":"p₁","t":4,"v":0.02,"c":0.58},{"f":"h","s":"p₁","t":6,"v":0.03,"c":0.5},{"f":"h","s":"p₁","t":7,"v":0.03,"c":0.97},{"f":"h","s":"p₁","t":7.6,"v":0.07,"c":0.97},{"f":"h","s":"p₁","t":8.2,"v":0.13,"c":0.97},{"f":"h","s":"p₁","t":9,"v":0.3,"c":0.73},{"f":"h","s":"p₁","t":9.7,"v":0.34,"c":0.73},{"f":"h","s":"p₁","t":11.2,"v":0.35,"c":0.73},{"f":"h","s":"p₁","t":12.5,"v":0.33,"c":0.66},{"f":"h","s":"p₁","t":13.6,"v":0.31,"c":0.66},{"f":"h","s":"p₁","t":15.6,"v":0.26,"c":0.66},{"f":"h","s":"p₁","t":16.6,"v":0.2,"c":0.66},{"f":"h","s":"p₁","t":17.6,"v":0.14,"c":0.58},{"f":"h","s":"p₁","t":19.6,"v":0.1,"c":0.5},{"f":"h","s":"p₁","t":21.5,"v":0.06,"c":0.5},{"f":"h","s":"p₁","t":24,"v":0.045,"c":0.5},
{"f":"h","s":"p₂","t":0,"v":0.005,"c":0.58},{"f":"h","s":"p₂","t":7,"v":0.015,"c":0.97},{"f":"h","s":"p₂","t":7.5,"v":0.3,"c":0.97},{"f":"h","s":"p₂","t":8.1,"v":0.62,"c":0.97},{"f":"h","s":"p₂","t":8.5,"v":0.76,"c":0.62},{"f":"h","s":"p₂","t":9.5,"v":0.84,"c":0.62},{"f":"h","s":"p₂","t":10.2,"v":0.88,"c":0.66},{"f":"h","s":"p₂","t":11.4,"v":0.94,"c":0.73},{"f":"h","s":"p₂","t":12.3,"v":0.86,"c":0.85},{"f":"h","s":"p₂","t":13.2,"v":0.78,"c":0.73},{"f":"h","s":"p₂","t":14,"v":0.72,"c":0.85},{"f":"h","s":"p₂","t":15.1,"v":0.63,"c":0.73},{"f":"h","s":"p₂","t":16,"v":0.54,"c":0.85},{"f":"h","s":"p₂","t":16.5,"v":0.47,"c":0.97},{"f":"h","s":"p₂","t":17.1,"v":0.39,"c":0.85},{"f":"h","s":"p₂","t":17.6,"v":0.38,"c":0.85},{"f":"h","s":"p₂","t":18.3,"v":0.4,"c":0.85},{"f":"h","s":"p₂","t":19.1,"v":0.37,"c":0.85},{"f":"h","s":"p₂","t":19.8,"v":0.3,"c":0.73},{"f":"h","s":"p₂","t":20.5,"v":0.26,"c":0.28},{"f":"h","s":"p₂","t":21.2,"v":0.21,"c":0.28},{"f":"h","s":"p₂","t":22,"v":0.165,"c":0.28},{"f":"h","s":"p₂","t":23,"v":0.13,"c":0.28},{"f":"h","s":"p₂","t":24,"v":0.1,"c":0.28},
{"f":"h","s":"p₃","t":0,"v":0.03,"c":0.85},{"f":"h","s":"p₃","t":1,"v":0.11,"c":0.85},{"f":"h","s":"p₃","t":2,"v":0.2,"c":0.85},{"f":"h","s":"p₃","t":3,"v":0.29,"c":0.73},{"f":"h","s":"p₃","t":4,"v":0.38,"c":0.73},{"f":"h","s":"p₃","t":5,"v":0.47,"c":0.85},{"f":"h","s":"p₃","t":6,"v":0.55,"c":0.73},{"f":"h","s":"p₃","t":6.6,"v":0.59,"c":0.66},{"f":"h","s":"p₃","t":7.5,"v":0.56,"c":0.66},{"f":"h","s":"p₃","t":8.5,"v":0.51,"c":0.66},{"f":"h","s":"p₃","t":9.5,"v":0.44,"c":0.62},{"f":"h","s":"p₃","t":10.5,"v":0.37,"c":0.58},{"f":"h","s":"p₃","t":11.2,"v":0.33,"c":0.58},{"f":"h","s":"p₃","t":12,"v":0.42,"c":0.58},{"f":"h","s":"p₃","t":13,"v":0.5,"c":0.58},{"f":"h","s":"p₃","t":14,"v":0.56,"c":0.58},{"f":"h","s":"p₃","t":15,"v":0.61,"c":0.58},{"f":"h","s":"p₃","t":16,"v":0.59,"c":0.58},{"f":"h","s":"p₃","t":16.6,"v":0.59,"c":0.58},{"f":"h","s":"p₃","t":17.3,"v":0.63,"c":0.58},{"f":"h","s":"p₃","t":18,"v":0.54,"c":0.54},{"f":"h","s":"p₃","t":18.6,"v":0.7,"c":0.54},{"f":"h","s":"p₃","t":19.6,"v":0.71,"c":0.54},{"f":"h","s":"p₃","t":20,"v":0.76,"c":0.54},{"f":"h","s":"p₃","t":20.8,"v":0.52,"c":0.54},{"f":"h","s":"p₃","t":21.5,"v":0.47,"c":0.54},{"f":"h","s":"p₃","t":22.5,"v":0.42,"c":0.54},{"f":"h","s":"p₃","t":24,"v":0.38,"c":0.54}
]},
"vconcat":[
 {"hconcat":[
  {"width":162,"height":180,"title":{"text":"(a) FCFS"},"transform":[{"filter":"datum.f=='a'"}],"layer":[
   {"transform":[{"window":[{"op":"lead","field":"t","as":"t2"},{"op":"lead","field":"v","as":"v2"}],"groupby":["s"],"sort":[{"field":"t"}]},{"filter":"datum.t2 != null"}],"mark":{"type":"rule","strokeWidth":4.5,"strokeCap":"round"},"encoding":{"x":{"field":"t","type":"quantitative","scale":{"domain":[0,24],"nice":false},"axis":{"title":"Time of Day","values":[0,3,6,9,12,15,18,21,24],"labelOverlap":false,"tickCount":30}},"y":{"field":"v","type":"quantitative","scale":{"domain":[0,1],"nice":false},"axis":{"title":"Occupancy","values":[0,0.2,0.4,0.6,0.8,1],"format":".1f","labelOverlap":false,"tickCount":30}},"x2":{"field":"t2"},"y2":{"field":"v2"},"color":{"field":"c","type":"quantitative","scale":{"domain":[0,1],"scheme":"spectral","reverse":true},"legend":{"title":null,"gradientLength":237,"gradientThickness":25,"values":[0.122,0.367,0.624,0.823],"labelExpr":"datum.value > 0.75 ? 'W' : datum.value > 0.5 ? 'S' : datum.value > 0.25 ? 'V' : 'N'","offset":25,"gradientStrokeColor":"#333","gradientStrokeWidth":1}}}},
   {"transform":[{"filter":"datum.t==24"}],"mark":{"type":"text","align":"left","baseline":"middle","dx":2,"font":"DejaVu Sans","fontStyle":"italic","fontSize":18,"color":"#222"},"encoding":{"x":{"field":"t","type":"quantitative"},"y":{"field":"v","type":"quantitative"},"text":{"field":"s"}}}]},
  {"width":162,"height":180,"title":{"text":"(b) QMIXm:0.1"},"transform":[{"filter":"datum.f=='b'"}],"layer":[
   {"transform":[{"window":[{"op":"lead","field":"t","as":"t2"},{"op":"lead","field":"v","as":"v2"}],"groupby":["s"],"sort":[{"field":"t"}]},{"filter":"datum.t2 != null"}],"mark":{"type":"rule","strokeWidth":4.5,"strokeCap":"round"},"encoding":{"x":{"field":"t","type":"quantitative","scale":{"domain":[0,24],"nice":false},"axis":{"title":"Time of Day","values":[0,3,6,9,12,15,18,21,24],"labelOverlap":false,"tickCount":30}},"y":{"field":"v","type":"quantitative","scale":{"domain":[0,1],"nice":false},"axis":{"title":"Occupancy","values":[0,0.2,0.4,0.6,0.8,1],"format":".1f","labelOverlap":false,"tickCount":30}},"x2":{"field":"t2"},"y2":{"field":"v2"},"color":{"field":"c","type":"quantitative","scale":{"domain":[0,1],"scheme":"spectral","reverse":true}}}},
   {"transform":[{"filter":"datum.t==24"}],"mark":{"type":"text","align":"left","baseline":"middle","dx":2,"font":"DejaVu Sans","fontStyle":"italic","fontSize":18,"color":"#222"},"encoding":{"x":{"field":"t","type":"quantitative"},"y":{"field":"v","type":"quantitative"},"text":{"field":"s"}}}]},
  {"width":162,"height":180,"title":{"text":"(c) QMIXm:0.3"},"transform":[{"filter":"datum.f=='c'"}],"layer":[
   {"transform":[{"window":[{"op":"lead","field":"t","as":"t2"},{"op":"lead","field":"v","as":"v2"}],"groupby":["s"],"sort":[{"field":"t"}]},{"filter":"datum.t2 != null"}],"mark":{"type":"rule","strokeWidth":4.5,"strokeCap":"round"},"encoding":{"x":{"field":"t","type":"quantitative","scale":{"domain":[0,24],"nice":false},"axis":{"title":"Time of Day","values":[0,3,6,9,12,15,18,21,24],"labelOverlap":false,"tickCount":30}},"y":{"field":"v","type":"quantitative","scale":{"domain":[0,1],"nice":false},"axis":{"title":"Occupancy","values":[0,0.2,0.4,0.6,0.8,1],"format":".1f","labelOverlap":false,"tickCount":30}},"x2":{"field":"t2"},"y2":{"field":"v2"},"color":{"field":"c","type":"quantitative","scale":{"domain":[0,1],"scheme":"spectral","reverse":true}}}},
   {"transform":[{"filter":"datum.t==24"}],"mark":{"type":"text","align":"left","baseline":"middle","dx":2,"font":"DejaVu Sans","fontStyle":"italic","fontSize":18,"color":"#222"},"encoding":{"x":{"field":"t","type":"quantitative"},"y":{"field":"v","type":"quantitative"},"text":{"field":"s"}}}]},
  {"width":162,"height":180,"title":{"text":"(d) QMIXm:0.5"},"transform":[{"filter":"datum.f=='d'"}],"layer":[
   {"transform":[{"window":[{"op":"lead","field":"t","as":"t2"},{"op":"lead","field":"v","as":"v2"}],"groupby":["s"],"sort":[{"field":"t"}]},{"filter":"datum.t2 != null"}],"mark":{"type":"rule","strokeWidth":4.5,"strokeCap":"round"},"encoding":{"x":{"field":"t","type":"quantitative","scale":{"domain":[0,24],"nice":false},"axis":{"title":"Time of Day","values":[0,3,6,9,12,15,18,21,24],"labelOverlap":false,"tickCount":30}},"y":{"field":"v","type":"quantitative","scale":{"domain":[0,1],"nice":false},"axis":{"title":"Occupancy","values":[0,0.2,0.4,0.6,0.8,1],"format":".1f","labelOverlap":false,"tickCount":30}},"x2":{"field":"t2"},"y2":{"field":"v2"},"color":{"field":"c","type":"quantitative","scale":{"domain":[0,1],"scheme":"spectral","reverse":true}}}},
   {"transform":[{"filter":"datum.t==24"}],"mark":{"type":"text","align":"left","baseline":"middle","dx":2,"font":"DejaVu Sans","fontStyle":"italic","fontSize":18,"color":"#222"},"encoding":{"x":{"field":"t","type":"quantitative"},"y":{"field":"v","type":"quantitative"},"text":{"field":"s"}}}]}
 ],"spacing":105,"bounds":"flush"},
 {"hconcat":[
  {"width":162,"height":180,"title":{"text":"(e) QMIXm:0.7"},"transform":[{"filter":"datum.f=='e'"}],"layer":[
   {"transform":[{"window":[{"op":"lead","field":"t","as":"t2"},{"op":"lead","field":"v","as":"v2"}],"groupby":["s"],"sort":[{"field":"t"}]},{"filter":"datum.t2 != null"}],"mark":{"type":"rule","strokeWidth":4.5,"strokeCap":"round"},"encoding":{"x":{"field":"t","type":"quantitative","scale":{"domain":[0,24],"nice":false},"axis":{"title":"Time of Day","values":[0,3,6,9,12,15,18,21,24],"labelOverlap":false,"tickCount":30}},"y":{"field":"v","type":"quantitative","scale":{"domain":[0,1],"nice":false},"axis":{"title":"Occupancy","values":[0,0.2,0.4,0.6,0.8,1],"format":".1f","labelOverlap":false,"tickCount":30}},"x2":{"field":"t2"},"y2":{"field":"v2"},"color":{"field":"c","type":"quantitative","scale":{"domain":[0,1],"scheme":"spectral","reverse":true},"legend":{"title":null,"gradientLength":237,"gradientThickness":25,"values":[0.122,0.367,0.624,0.823],"labelExpr":"datum.value > 0.75 ? 'W' : datum.value > 0.5 ? 'S' : datum.value > 0.25 ? 'V' : 'N'","offset":25,"gradientStrokeColor":"#333","gradientStrokeWidth":1}}}},
   {"transform":[{"filter":"datum.t==24"}],"mark":{"type":"text","align":"left","baseline":"middle","dx":2,"font":"DejaVu Sans","fontStyle":"italic","fontSize":18,"color":"#222"},"encoding":{"x":{"field":"t","type":"quantitative"},"y":{"field":"v","type":"quantitative"},"text":{"field":"s"}}}]},
  {"width":162,"height":180,"title":{"text":"(f) QMIXm:0.9"},"transform":[{"filter":"datum.f=='f'"}],"layer":[
   {"transform":[{"window":[{"op":"lead","field":"t","as":"t2"},{"op":"lead","field":"v","as":"v2"}],"groupby":["s"],"sort":[{"field":"t"}]},{"filter":"datum.t2 != null"}],"mark":{"type":"rule","strokeWidth":4.5,"strokeCap":"round"},"encoding":{"x":{"field":"t","type":"quantitative","scale":{"domain":[0,24],"nice":false},"axis":{"title":"Time of Day","values":[0,3,6,9,12,15,18,21,24],"labelOverlap":false,"tickCount":30}},"y":{"field":"v","type":"quantitative","scale":{"domain":[0,1],"nice":false},"axis":{"title":"Occupancy","values":[0,0.2,0.4,0.6,0.8,1],"format":".1f","labelOverlap":false,"tickCount":30}},"x2":{"field":"t2"},"y2":{"field":"v2"},"color":{"field":"c","type":"quantitative","scale":{"domain":[0,1],"scheme":"spectral","reverse":true}}}},
   {"transform":[{"filter":"datum.t==24"}],"mark":{"type":"text","align":"left","baseline":"middle","dx":2,"font":"DejaVu Sans","fontStyle":"italic","fontSize":18,"color":"#222"},"encoding":{"x":{"field":"t","type":"quantitative"},"y":{"field":"v","type":"quantitative"},"text":{"field":"s"}}}]},
  {"width":162,"height":180,"title":{"text":"(g) QMIXm:1.0"},"transform":[{"filter":"datum.f=='g'"}],"layer":[
   {"transform":[{"window":[{"op":"lead","field":"t","as":"t2"},{"op":"lead","field":"v","as":"v2"}],"groupby":["s"],"sort":[{"field":"t"}]},{"filter":"datum.t2 != null"}],"mark":{"type":"rule","strokeWidth":4.5,"strokeCap":"round"},"encoding":{"x":{"field":"t","type":"quantitative","scale":{"domain":[0,24],"nice":false},"axis":{"title":"Time of Day","values":[0,3,6,9,12,15,18,21,24],"labelOverlap":false,"tickCount":30}},"y":{"field":"v","type":"quantitative","scale":{"domain":[0,1],"nice":false},"axis":{"title":"Occupancy","values":[0,0.2,0.4,0.6,0.8,1],"format":".1f","labelOverlap":false,"tickCount":30}},"x2":{"field":"t2"},"y2":{"field":"v2"},"color":{"field":"c","type":"quantitative","scale":{"domain":[0,1],"scheme":"spectral","reverse":true}}}},
   {"transform":[{"filter":"datum.t==24"}],"mark":{"type":"text","align":"left","baseline":"middle","dx":2,"font":"DejaVu Sans","fontStyle":"italic","fontSize":18,"color":"#222"},"encoding":{"x":{"field":"t","type":"quantitative"},"y":{"field":"v","type":"quantitative"},"text":{"field":"s"}}}]},
  {"width":162,"height":180,"title":{"text":"(h) SO"},"transform":[{"filter":"datum.f=='h'"}],"layer":[
   {"transform":[{"window":[{"op":"lead","field":"t","as":"t2"},{"op":"lead","field":"v","as":"v2"}],"groupby":["s"],"sort":[{"field":"t"}]},{"filter":"datum.t2 != null"}],"mark":{"type":"rule","strokeWidth":4.5,"strokeCap":"round"},"encoding":{"x":{"field":"t","type":"quantitative","scale":{"domain":[0,24],"nice":false},"axis":{"title":"Time of Day","values":[0,3,6,9,12,15,18,21,24],"labelOverlap":false,"tickCount":30}},"y":{"field":"v","type":"quantitative","scale":{"domain":[0,1],"nice":false},"axis":{"title":"Occupancy","values":[0,0.2,0.4,0.6,0.8,1],"format":".1f","labelOverlap":false,"tickCount":30}},"x2":{"field":"t2"},"y2":{"field":"v2"},"color":{"field":"c","type":"quantitative","scale":{"domain":[0,1],"scheme":"spectral","reverse":true}}}},
   {"transform":[{"filter":"datum.t==24"}],"mark":{"type":"text","align":"left","baseline":"middle","dx":2,"font":"DejaVu Sans","fontStyle":"italic","fontSize":18,"color":"#222"},"encoding":{"x":{"field":"t","type":"quantitative"},"y":{"field":"v","type":"quantitative"},"text":{"field":"s"}}}]}
 ],"spacing":105,"bounds":"flush"}
],
"spacing":65,
"resolve":{"scale":{"color":"independent"},"legend":{"color":"independent"}}
}
